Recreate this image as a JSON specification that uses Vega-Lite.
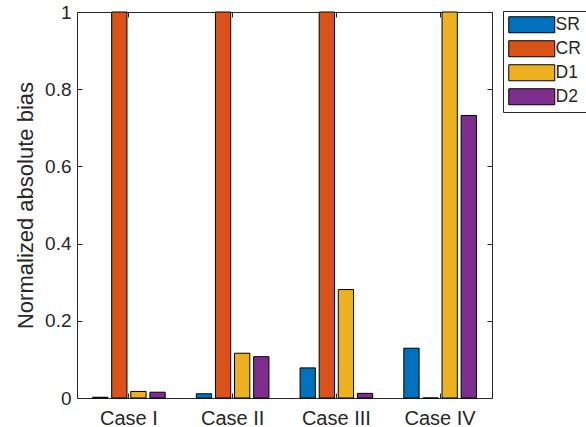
{
  "$schema": "https://vega.github.io/schema/vega-lite/v6.json",
  "width": 415,
  "height": 386,
  "autosize": {"type": "none"},
  "padding": {"left": 77, "top": 12, "right": 94, "bottom": 29},
  "background": "white",
  "data": {
    "values": [
      {"case": "Case I", "method": "SR", "value": 0.002},
      {"case": "Case I", "method": "CR", "value": 1},
      {"case": "Case I", "method": "D1", "value": 0.017},
      {"case": "Case I", "method": "D2", "value": 0.015},
      {"case": "Case II", "method": "SR", "value": 0.011},
      {"case": "Case II", "method": "CR", "value": 1},
      {"case": "Case II", "method": "D1", "value": 0.116},
      {"case": "Case II", "method": "D2", "value": 0.107},
      {"case": "Case III", "method": "SR", "value": 0.078},
      {"case": "Case III", "method": "CR", "value": 1},
      {"case": "Case III", "method": "D1", "value": 0.281},
      {"case": "Case III", "method": "D2", "value": 0.012},
      {"case": "Case IV", "method": "SR", "value": 0.129},
      {"case": "Case IV", "method": "CR", "value": 0},
      {"case": "Case IV", "method": "D1", "value": 1},
      {"case": "Case IV", "method": "D2", "value": 0.732}
    ]
  },
  "layer": [
    {
      "mark": {"type": "bar", "stroke": "black", "strokeWidth": 1, "opacity": 1},
      "encoding": {
        "x": {
          "field": "case", "type": "nominal",
          "sort": ["Case I", "Case II", "Case III", "Case IV"],
          "scale": {"paddingInner": 0.3, "paddingOuter": 0.15},
          "axis": {"orient": "bottom", "title": null, "labelAngle": 0, "labelPadding": 15, "labelFontSize": 20}
        },
        "xOffset": {
          "field": "method", "type": "nominal",
          "sort": ["SR", "CR", "D1", "D2"],
          "scale": {"paddingInner": 0.2, "paddingOuter": 0}
        },
        "y": {
          "field": "value", "type": "quantitative",
          "scale": {"domain": [0, 1], "nice": false},
          "axis": {
            "orient": "left", "title": "Normalized absolute bias",
            "values": [0, 0.2, 0.4, 0.6, 0.8, 1], "format": "~g",
            "labelPadding": 11, "titlePadding": 7,
            "titleFontSize": 22, "titleFontWeight": "normal", "titleColor": "#262626", "titleFont": "Liberation Sans"
          }
        },
        "color": {
          "field": "method", "type": "nominal",
          "sort": ["SR", "CR", "D1", "D2"],
          "scale": {"domain": ["SR", "CR", "D1", "D2"], "range": ["#0072BD", "#D95319", "#EDB120", "#7E2F8E"]},
          "legend": {
            "title": null,
            "orient": "none", "legendX": 426, "legendY": -1,
            "strokeColor": "#262626", "fillColor": "white", "padding": 5,
            "symbolType": "M-1,-1L4.75,-1L4.75,1L-1,1Z",
            "symbolSize": 256,
            "symbolStrokeColor": "black", "symbolStrokeWidth": 1, "symbolOpacity": 1,
            "labelOffset": 30, "labelFontSize": 17.5, "labelFont": "Liberation Sans", "labelColor": "#262626",
            "rowPadding": 3
          }
        }
      }
    },
    {
      "mark": {"type": "bar", "opacity": 0},
      "encoding": {
        "x": {
          "field": "case", "type": "nominal",
          "sort": ["Case I", "Case II", "Case III", "Case IV"],
          "axis": {"orient": "top", "title": null, "labels": false}
        },
        "y": {
          "field": "value", "type": "quantitative",
          "axis": {"orient": "right", "title": null, "labels": false, "values": [0, 0.2, 0.4, 0.6, 0.8, 1]}
        }
      }
    }
  ],
  "resolve": {"axis": {"x": "independent", "y": "independent"}},
  "config": {
    "view": {"stroke": "#262626", "strokeWidth": 1},
    "axis": {
      "domain": false, "grid": false,
      "tickSize": -5, "tickColor": "#262626", "tickWidth": 1,
      "labelFont": "Liberation Sans", "labelFontSize": 19, "labelColor": "#262626"
    }
  }
}
